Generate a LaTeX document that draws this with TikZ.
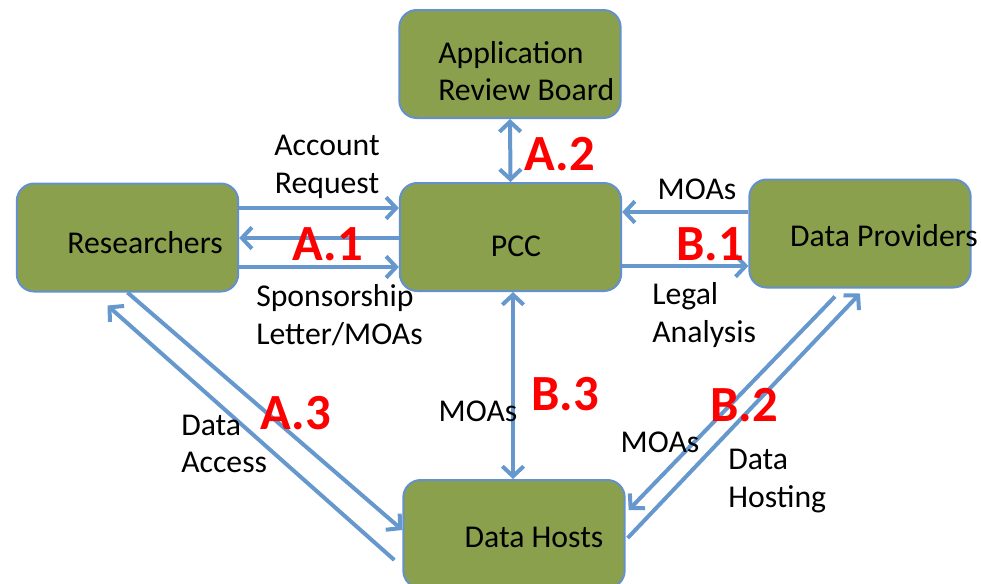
\documentclass[tikz,border=0pt]{standalone}
\usepackage{fontspec}
\setmainfont{Carlito}
\usetikzlibrary{arrows.meta,calc}
\definecolor{boxfill}{RGB}{138,160,76}
\definecolor{boxline}{RGB}{100,145,205}
\definecolor{arrcol}{RGB}{102,152,206}
\definecolor{labred}{RGB}{255,0,0}
\begin{document}
\begin{tikzpicture}[x=0.75pt,y=-0.75pt,
  box/.style={draw=boxline,line width=1.5pt,fill=boxfill,rounded corners=13pt,
    minimum width=166pt,minimum height=81pt,inner sep=0pt},
  txt/.style={font=\fontsize{23.8}{28}\selectfont,text=black,inner sep=0pt,align=left},
  red/.style={font=\fontsize{38}{40}\selectfont\bfseries,text=labred,inner sep=0pt},
  arr/.style={draw=arrcol,line width=3pt,-{Straight Barb[length=7.5pt,width=16pt]}},
  darr/.style={draw=arrcol,line width=3pt,{Straight Barb[length=7.5pt,width=16pt]}-{Straight Barb[length=7.5pt,width=16pt]}}]
\useasboundingbox (0,0) rectangle (981,583);
% boxes
\node[box] (arb) at (510,64) {};
\node[box] (res) at (127.5,237.5) {};
\node[box] (pcc) at (510.5,237) {};
\node[box] (dp) at (860,233.5) {};
\node[box] (dh) at (514,534) {};
% box texts
\node[txt,anchor=west] (arbt) at (438,71) {Application\\Review Board};
\node[txt] (rest) at (145,243) {Researchers};
\node[txt] (pcct) at (516,246) {PCC};
\node[txt] (dpt) at (884,236) {Data Providers};
\node[txt] (dht) at (534,537) {Data Hosts};
% connectors
\draw[arr] (res.east |- 0,208) -- (pcc.west |- 0,208);
\draw[arr] (pcc.west |- 0,238) -- (res.east |- 0,238);
\draw[arr] (res.east |- 0,267) -- (pcc.west |- 0,267);
\draw[darr] (arb.south) -- (pcc.north);
\draw[arr] (dp.west |- 0,212) -- (pcc.east |- 0,212);
\draw[arr] (pcc.east |- 0,266) -- (dp.west |- 0,266);
\draw[darr] (pcc.south -| 513,0) -- (dh.north -| 513,0);
\draw[arr] (res.south) -- ($(dh.west)+(0,-4)$);
\draw[arr] ($(dh.west)+(-8,26)$) -- ($(res.south)+(-20,13)$);
\draw[arr] ($(dp.south)+(-25,8)$) -- ($(dh.east)+(3,-24)$);
\draw[arr] ($(dh.east)+(2,4)$) -- ($(dp.south)+(0,5)$);
% labels
\node[txt,align=center] (l1) at (327,167) {Account\\Request};
\node[txt,anchor=west] (l2) at (256,315) {Sponsorship\\Letter/MOAs};
\node[txt] (l3) at (697,189) {MOAs};
\node[txt,anchor=west] (l4) at (652,315) {Legal\\Analysis};
\node[txt,anchor=west] (l5) at (181,444) {Data\\Access};
\node[txt] (l6) at (478,411) {MOAs};
\node[txt] (l7) at (660,442) {MOAs};
\node[txt,anchor=west] (l8) at (728,481) {Data\\Hosting};
\node[red] (a1) at (328,244) {A.1};
\node[red] (a2) at (560,154) {A.2};
\node[red] (a3) at (296,413) {A.3};
\node[red] (b1) at (710,244) {B.1};
\node[red] (b2) at (744,405) {B.2};
\node[red] (b3) at (565,394) {B.3};
\end{tikzpicture}
\end{document}
